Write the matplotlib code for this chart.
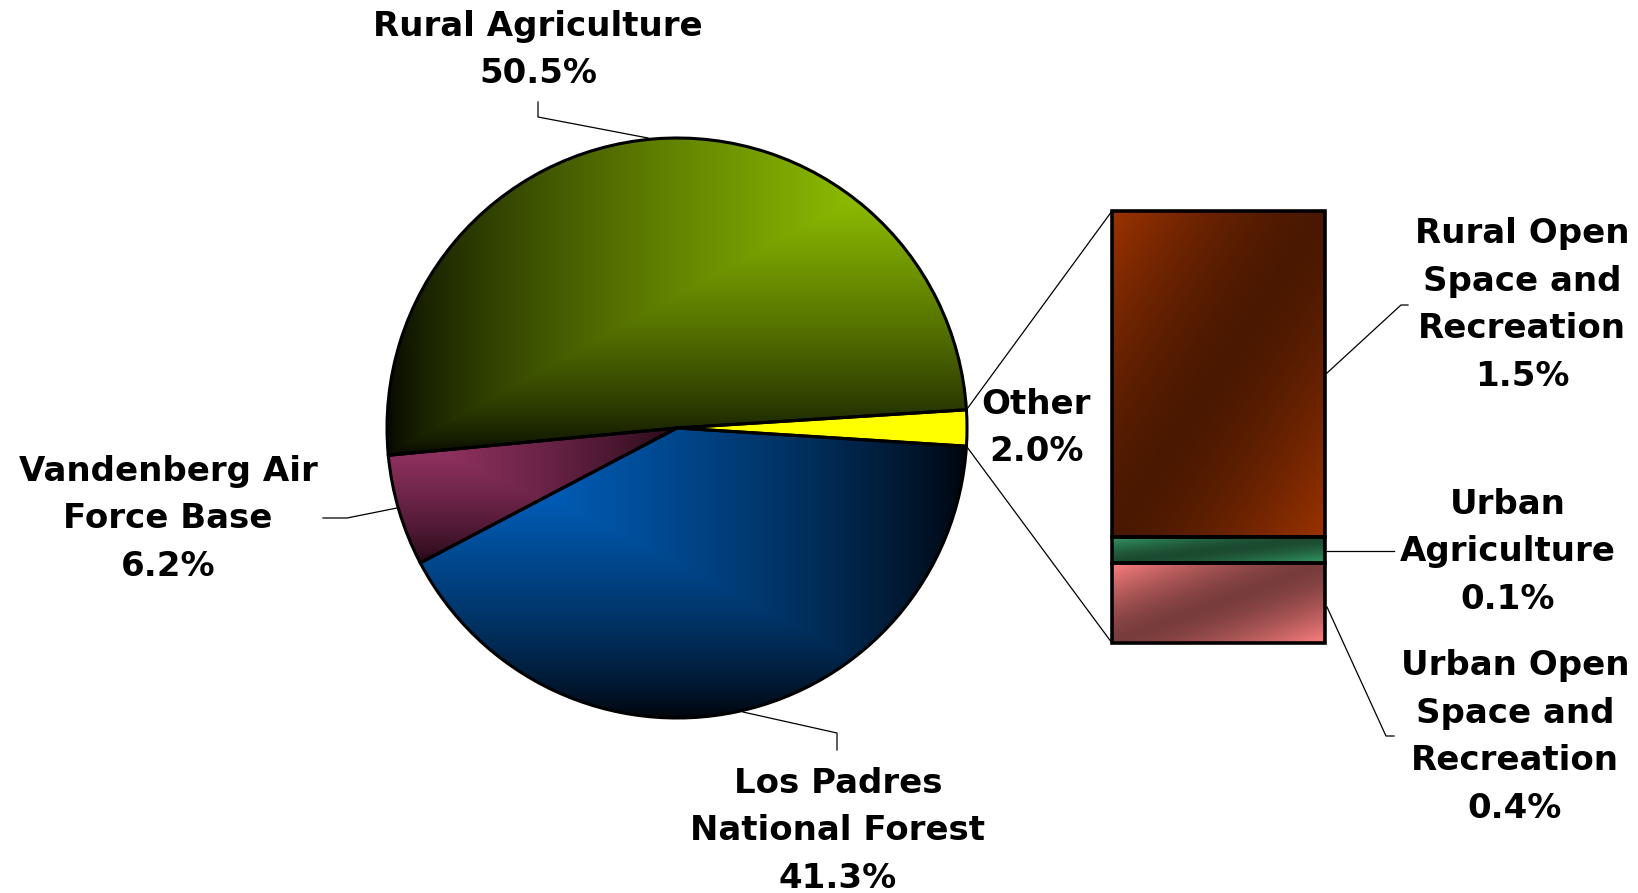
import numpy as np
import matplotlib
matplotlib.use("Agg")
import matplotlib.pyplot as plt
from matplotlib.colors import to_rgb

# ---------------- data ----------------
categories = ["Rural Agriculture", "Vandenberg Air Force Base",
              "Los Padres National Forest", "Other"]
label_texts = ["Rural Agriculture", "Vandenberg Air\nForce Base",
               "Los Padres\nNational Forest", "Other"]
shares = [50.5, 6.2, 41.3, 2.0]

other_categories = ["Rural Open Space and Recreation", "Urban Agriculture",
                    "Urban Open Space and Recreation"]
other_label_texts = ["Rural Open\nSpace and\nRecreation", "Urban\nAgriculture",
                     "Urban Open\nSpace and\nRecreation"]
other_shares = [1.51, 0.12, 0.37]

# ---------------- styles ----------------
W, H = 1638, 893
CX, CY, R = 677, 428, 290          # pie centre / radius in pixels
BAR_X0, BAR_X1, BAR_Y0, BAR_Y1 = 1112, 1325, 211, 643

pie_grad = [  # (kind, dark, bright, gamma)
    ("corner_tr", "#050800", "#a4da00", 0.75),
    ("corner_tl", "#1e0612", "#a0386b", 0.7),
    ("corner_tl", "#000308", "#0070dc", 0.75),
    ("solid", "#ffff00", "#ffff00", 1.0),
]
bar_grad = [
    ("#4a1800", "#9c3300"),
    ("#1b4a30", "#349a66"),
    ("#783c3c", "#ff8080"),
]

FONT = dict(family="DejaVu Sans", fontweight="bold", fontsize=24.5,
            color="black", linespacing=1.57)


def gradient_image(kind, dark, bright, gamma=1.0, n=300):
    u = np.linspace(0, 1, n)[None, :].repeat(n, 0)     # left -> right
    v = np.linspace(0, 1, n)[:, None].repeat(n, 1)     # top -> bottom
    if kind == "corner_tr":
        t = 1 - np.maximum(1 - u, v)
    elif kind == "corner_tl":
        t = 1 - np.maximum(u, v)
    elif kind == "diag":
        t = np.abs(u + v - 1)
    else:
        t = np.ones_like(u)
    t = np.clip(t, 0, 1) ** gamma
    d = np.array(to_rgb(dark))
    b = np.array(to_rgb(bright))
    return d + (b - d) * t[..., None]


fig = plt.figure(figsize=(W / 100, H / 100), dpi=100)

# ---------------- overlay axes in pixel coordinates ----------------
ov = fig.add_axes([0, 0, 1, 1])
ov.set_xlim(0, W)
ov.set_ylim(H, 0)
ov.axis("off")

# ---------------- pie ----------------
pax = fig.add_axes([(CX - R) / W, (H - CY - R) / H, 2 * R / W, 2 * R / H])
start = shares[-1] * 3.6 / 2
wedges, _ = pax.pie(shares, startangle=start, counterclock=True,
                    wedgeprops=dict(linewidth=2.2, edgecolor="black"),
                    radius=1.0)
for w, (kind, dk, br, g) in zip(wedges, pie_grad):
    w.set_facecolor("none")
    w.set_zorder(3)
    ext = w.get_path().get_extents()
    img = gradient_image(kind, dk, br, g)
    im = pax.imshow(img, extent=(ext.x0, ext.x1, ext.y0, ext.y1), origin="upper",
                    interpolation="bilinear", zorder=1, aspect="auto")
    im.set_clip_path(w)
pax.set_xlim(-1.0, 1.0)
pax.set_ylim(-1.0, 1.0)
pax.set_aspect("equal")
pax.axis("off")

# ---------------- bar of "Other" ----------------
bax = fig.add_axes([BAR_X0 / W, (H - BAR_Y1) / H, (BAR_X1 - BAR_X0) / W,
                    (BAR_Y1 - BAR_Y0) / H])
total = sum(other_shares)
bottoms = np.concatenate([[0], np.cumsum(other_shares)[:-1]])
bars = bax.bar([0] * len(other_shares), other_shares, bottom=bottoms, width=1.0,
               align="center", facecolor="none", edgecolor="black", linewidth=2.6,
               zorder=3)
for rect, (dk, br) in zip(bars, bar_grad):
    x0, y0 = rect.get_x(), rect.get_y()
    x1, y1 = x0 + rect.get_width(), y0 + rect.get_height()
    img = gradient_image("diag", dk, br, 1.5)
    im = bax.imshow(img, extent=(x0, x1, y1, y0), origin="upper",
                    interpolation="bilinear", zorder=1, aspect="auto")
    im.set_clip_path(rect)
    rect.set_clip_on(False)
bax.set_xlim(-0.5, 0.5)
bax.set_ylim(total, 0)
bax.axis("off")

# ---------------- connector lines pie -> bar ----------------
half = np.radians(shares[-1] * 3.6 / 2)
px = CX + R * np.cos(half)
ov.plot([px, BAR_X0], [CY - R * np.sin(half), BAR_Y0], color="black", lw=0.9)
ov.plot([px, BAR_X0], [CY + R * np.sin(half), BAR_Y1], color="black", lw=0.9)

# ---------------- labels ----------------
pie_label_pos = [(538, 50), (168, 519), (838, 831), (1036, 428)]
for txt, val, (x, y) in zip(label_texts, shares, pie_label_pos):
    ov.text(x, y, f"{txt}\n{val:.1f}%", ha="center", va="center", **FONT)

bar_label_pos = [(1522, 305), (1508, 552), (1515, 737)]
for txt, val, (x, y) in zip(other_label_texts, other_shares, bar_label_pos):
    ov.text(x, y, f"{txt}\n{val:.1f}%", ha="center", va="center", **FONT)

# leader lines
leaders = [
    [(538, 102), (538, 117), (648, 138)],
    [(323, 518), (347, 518), (397, 508)],
    [(743, 712), (837, 733), (837, 750)],
    [(1327, 373), (1401, 305), (1408, 305)],
    [(1327, 551), (1394, 551)],
    [(1327, 607), (1386, 736), (1394, 736)],
]
for pts in leaders:
    xs, ys = zip(*pts)
    ov.plot(xs, ys, color="black", lw=0.9)

fig.savefig("out.png", dpi=100, facecolor="white")
